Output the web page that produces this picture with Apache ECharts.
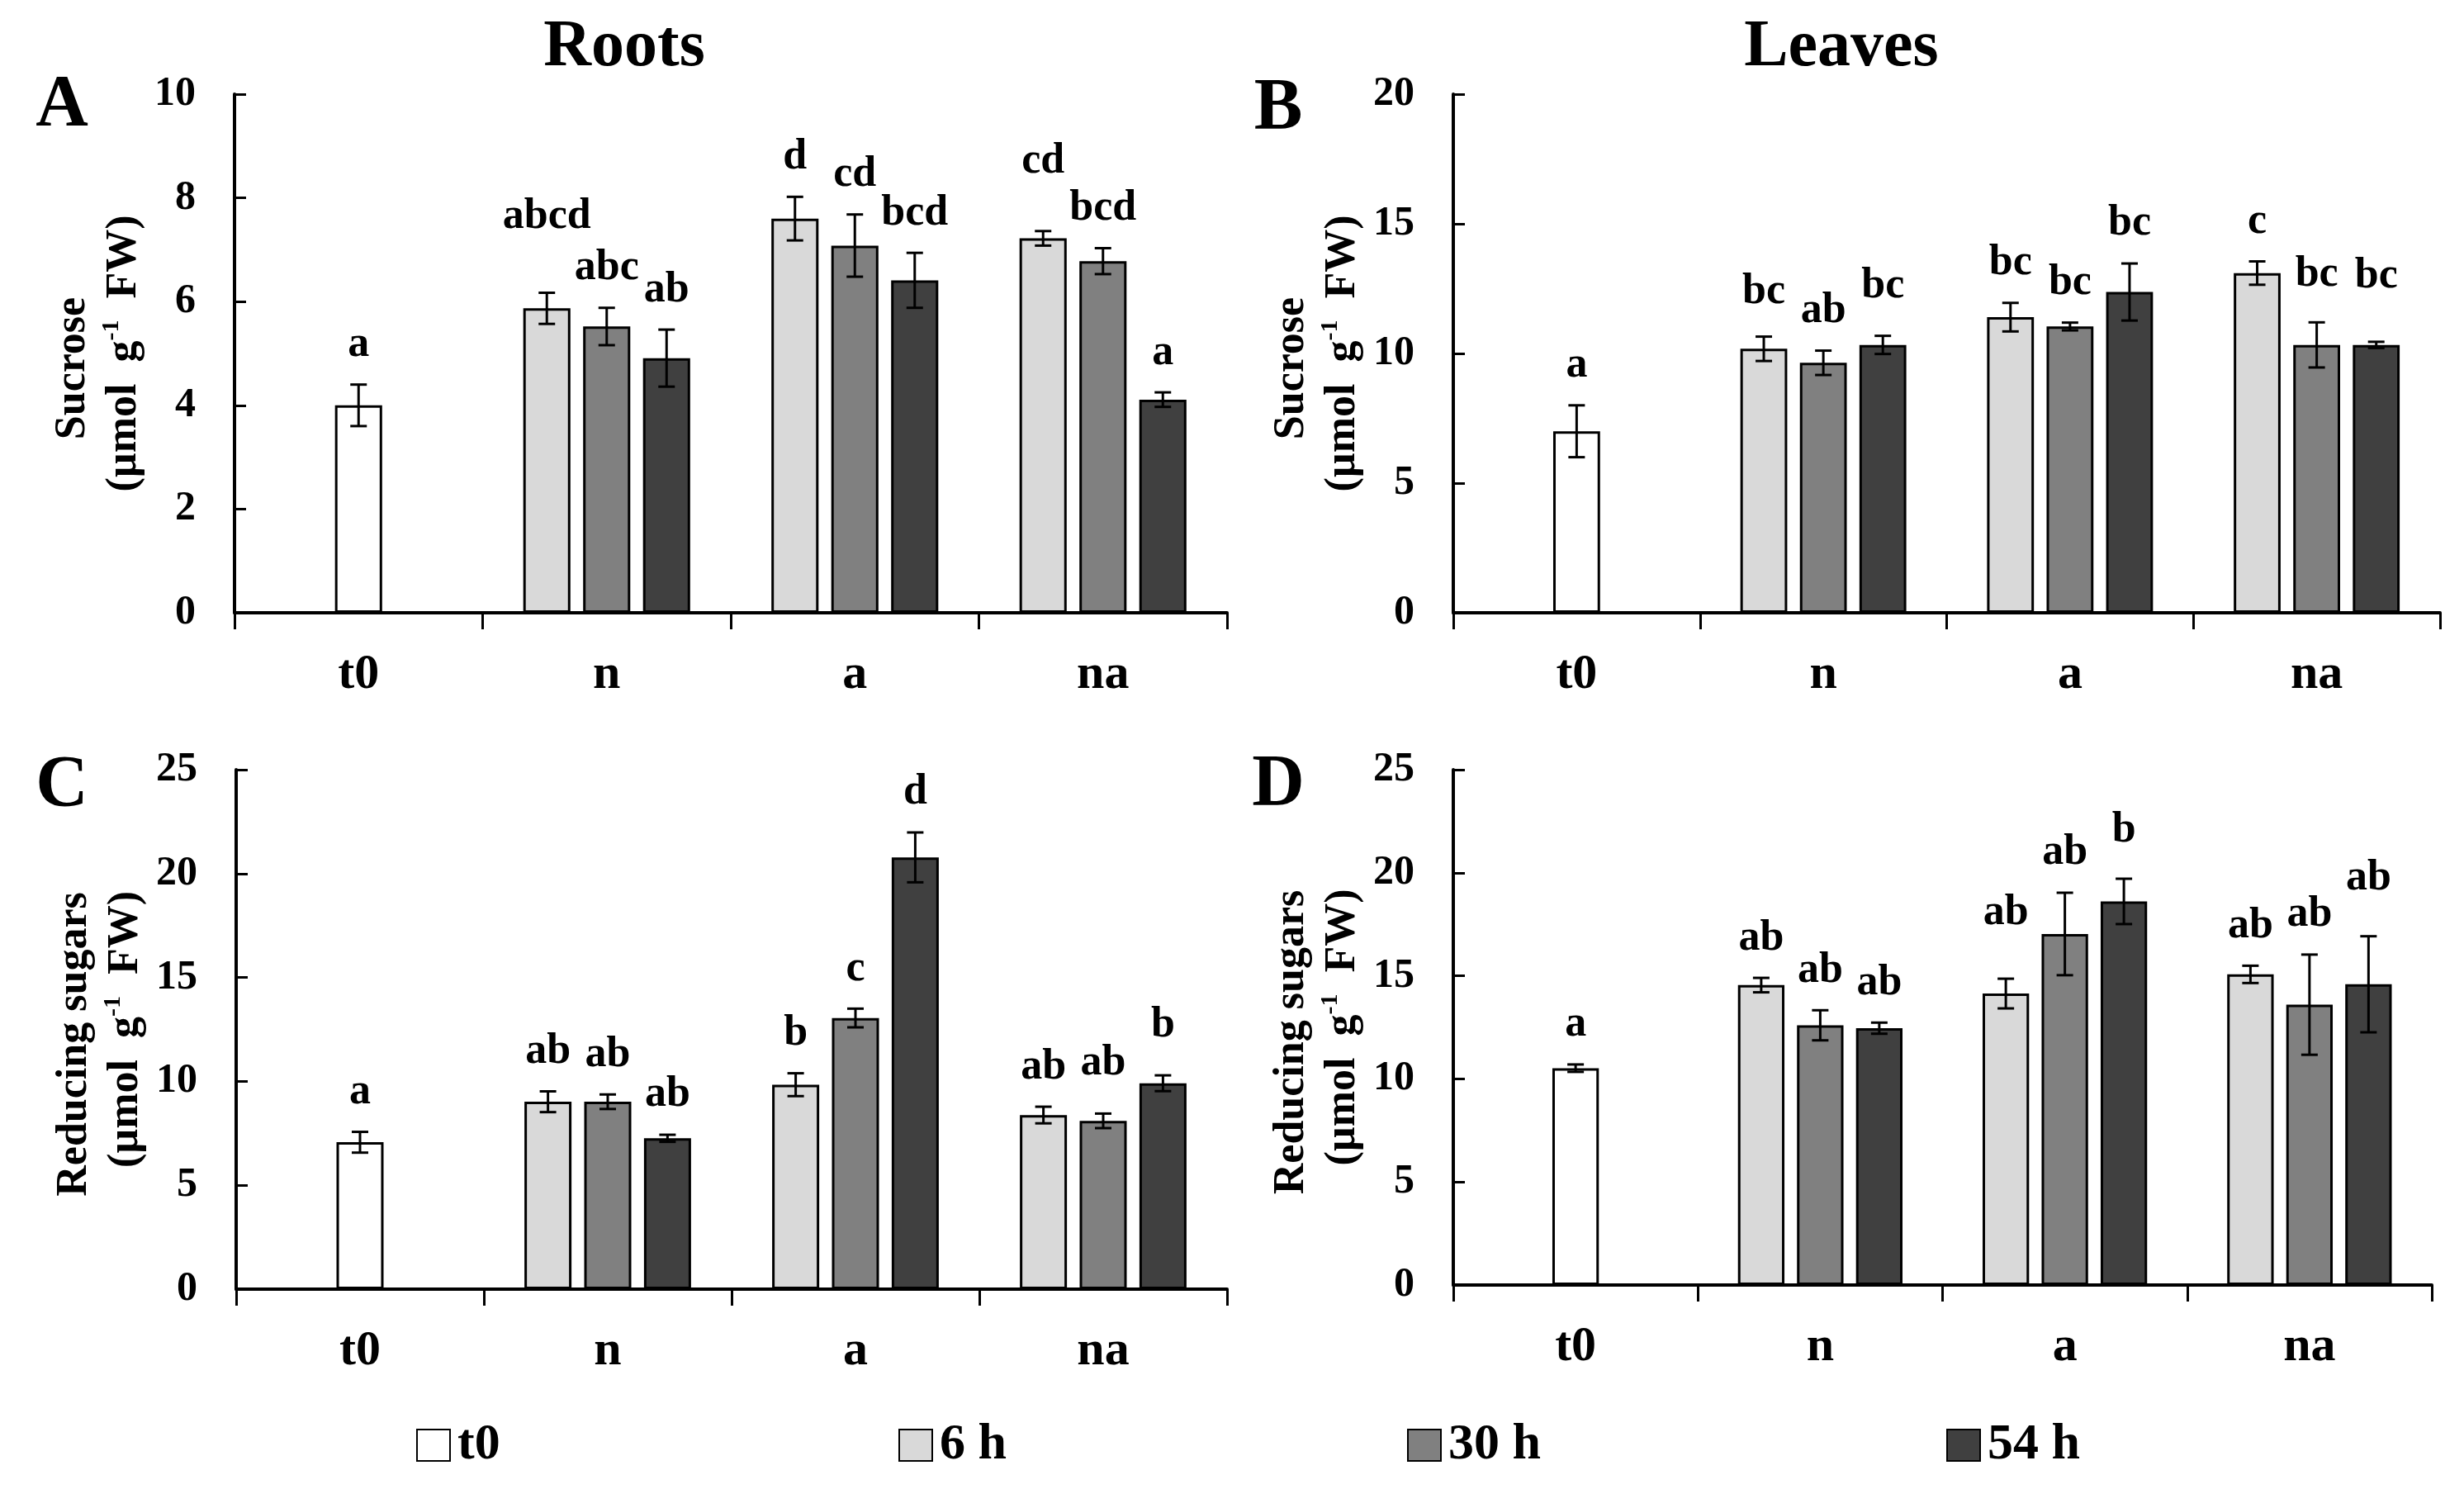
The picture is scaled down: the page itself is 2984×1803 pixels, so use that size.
<!DOCTYPE html>
<html>
<head>
<meta charset="utf-8">
<script src="https://cdn.jsdelivr.net/npm/echarts@6/dist/echarts.min.js"></script>
<style>
  html, body { margin: 0; background: #fff; }
  #chart { width: 2984px; height: 1803px; }
</style>
</head>
<body>
<div id="chart"></div>
<script>
// categories and series
var groups = ['t0', 'n', 'a', 'na'];
var seriesNames = ['t0', '6 h', '30 h', '54 h'];

// A - roots, sucrose (rows: t0, 6 h, 30 h, 54 h)
var rootsSucroseMean = [
    [4.00, null, null, null],
    [null, 5.87, 7.60, 7.22],
    [null, 5.52, 7.08, 6.78],
    [null, 4.91, 6.41, 4.11]
];
var rootsSucroseErr = [
    [0.40, null, null, null],
    [null, 0.30, 0.42, 0.14],
    [null, 0.36, 0.60, 0.25],
    [null, 0.55, 0.53, 0.14]
];
var rootsSucroseLetters = [
    ['a', '', '', ''],
    ['', 'abcd', 'd', 'cd'],
    ['', 'abc', 'cd', 'bcd'],
    ['', 'ab', 'bcd', 'a']
];

// B - leaves, sucrose
var leavesSucroseMean = [
    [7.00, null, null, null],
    [null, 10.18, 11.40, 13.10],
    [null, 9.64, 11.04, 10.33],
    [null, 10.33, 12.37, 10.33]
];
var leavesSucroseErr = [
    [1.00, null, null, null],
    [null, 0.47, 0.55, 0.45],
    [null, 0.47, 0.15, 0.87],
    [null, 0.35, 1.10, 0.12]
];
var leavesSucroseLetters = [
    ['a', '', '', ''],
    ['', 'bc', 'bc', 'c'],
    ['', 'ab', 'bc', 'bc'],
    ['', 'bc', 'bc', 'bc']
];

// C - roots, reducing sugars
var rootsReducingMean = [
    [7.07, null, null, null],
    [null, 9.02, 9.84, 8.38],
    [null, 9.02, 13.05, 8.10],
    [null, 7.26, 20.78, 9.91]
];
var rootsReducingErr = [
    [0.50, null, null, null],
    [null, 0.50, 0.55, 0.40],
    [null, 0.35, 0.45, 0.35],
    [null, 0.17, 1.20, 0.38]
];
var rootsReducingLetters = [
    ['a', '', '', ''],
    ['', 'ab', 'b', 'ab'],
    ['', 'ab', 'c', 'ab'],
    ['', 'ab', 'd', 'b']
];

// D - leaves, reducing sugars
var leavesReducingMean = [
    [10.52, null, null, null],
    [null, 14.55, 14.14, 15.07],
    [null, 12.60, 17.03, 13.60],
    [null, 12.46, 18.61, 14.59]
];
var leavesReducingErr = [
    [0.18, null, null, null],
    [null, 0.35, 0.72, 0.42],
    [null, 0.73, 2.00, 2.43],
    [null, 0.27, 1.10, 2.33]
];
var leavesReducingLetters = [
    ['a', '', '', ''],
    ['', 'ab', 'ab', 'ab'],
    ['', 'ab', 'ab', 'ab'],
    ['', 'ab', 'b', 'ab']
];

// layout / style
var FONT = '"Liberation Serif", "Times New Roman", serif';
var seriesColors = ['#ffffff', '#d9d9d9', '#808080', '#404040'];
var BAR_W = 0.19;
var BAR_GAP = 0.27;
var CAP = 10;
var LETTER_GAP = 22;

// extra lift (px) of some letters, as placed by hand in the original
var liftA = [[0, 0, 0, 0], [0, 44, 0, 36], [0, 0, 0, 0], [0, 0, 0, 0]];
var liftB = [[0, 0, 0, 0], [0, 6, 0, 0], [0, 0, 0, 10], [0, 12, 0, 31]];
var liftC = [[0, 0, 0, 0], [0, 0, 0, 0], [0, 0, 0, 13], [0, 0, 0, 13]];
var liftD = [[0, 0, 0, 0], [0, 0, 32, 0], [0, 0, 0, 0], [0, 0, 10, 22]];

var unitName = '\n{b|(µmol  g}{sup|-1}{b|  FW)}';

var panels = [
    { grid: { left: 284, top: 114, width: 1202, height: 628 }, max: 10, interval: 2,
      name: '{h|Sucrose}' + unitName, mean: rootsSucroseMean, err: rootsSucroseErr,
      letters: rootsSucroseLetters, lift: liftA },
    { grid: { left: 1760, top: 114, width: 1195, height: 628 }, max: 20, interval: 5,
      name: '{h|Sucrose}' + unitName, mean: leavesSucroseMean, err: leavesSucroseErr,
      letters: leavesSucroseLetters, lift: liftB },
    { grid: { left: 286, top: 932, width: 1200, height: 629 }, max: 25, interval: 5,
      name: '{h|Reducing sugars}' + unitName, mean: rootsReducingMean, err: rootsReducingErr,
      letters: rootsReducingLetters, lift: liftC },
    { grid: { left: 1760, top: 932, width: 1185, height: 624 }, max: 25, interval: 5,
      name: '{h|Reducing sugars}' + unitName, mean: leavesReducingMean, err: leavesReducingErr,
      letters: leavesReducingLetters, lift: liftD }
];

function errorSeries(xi, yi, means, errs, letters, lifts, slot, count) {
    var data = [];
    means.forEach(function (m, i) {
        if (m != null) data.push([i, m, errs[i]]);
    });
    return {
        type: 'custom',
        xAxisIndex: xi,
        yAxisIndex: yi,
        z: 5,
        silent: true,
        data: data,
        encode: { x: 0, y: 1 },
        renderItem: function (params, api) {
            var i = api.value(0), m = api.value(1), e = api.value(2);
            var bw = api.size([1, 0])[0] * BAR_W;
            var off = (slot - (count - 1) / 2) * bw * (1 + BAR_GAP);
            var top = api.coord([i, m + e]);
            var bot = api.coord([i, m - e]);
            var x = top[0] + off;
            var ls = { stroke: '#000', lineWidth: 3 };
            return {
                type: 'group',
                children: [
                    { type: 'line', shape: { x1: x, y1: top[1], x2: x, y2: bot[1] }, style: ls },
                    { type: 'line', shape: { x1: x - CAP, y1: top[1], x2: x + CAP, y2: top[1] }, style: ls },
                    { type: 'line', shape: { x1: x - CAP, y1: bot[1], x2: x + CAP, y2: bot[1] }, style: ls },
                    {
                        type: 'text',
                        x: x,
                        y: top[1] - LETTER_GAP - lifts[i],
                        style: {
                            text: letters[i],
                            fill: '#000',
                            font: 'bold 52px ' + FONT,
                            align: 'center',
                            verticalAlign: 'bottom'
                        }
                    }
                ]
            };
        }
    };
}

var grids = [], xAxes = [], yAxes = [], series = [];

panels.forEach(function (p, k) {
    grids.push(p.grid);
    xAxes.push({
        type: 'category',
        gridIndex: k,
        data: groups,
        axisLine: { lineStyle: { color: '#000', width: 4 } },
        axisTick: { show: true, interval: 0, length: 20, lineStyle: { color: '#000', width: 3 } },
        axisLabel: { margin: 45, color: '#000', fontFamily: FONT, fontWeight: 'bold', fontSize: 60, interval: 0 },
        splitLine: { show: false }
    });
    xAxes.push({ type: 'category', gridIndex: k, data: groups, show: false });
    yAxes.push({
        type: 'value',
        gridIndex: k,
        min: 0,
        max: p.max,
        interval: p.interval,
        name: p.name,
        nameLocation: 'middle',
        nameRotate: 90,
        nameGap: 102,
        nameTextStyle: {
            lineHeight: 62,
            rich: {
                h: { fontFamily: FONT, fontWeight: 'bold', fontSize: 52, color: '#000', lineHeight: 62, padding: [0, 36, 0, 0] },
                b: { fontFamily: FONT, fontWeight: 'bold', fontSize: 52, color: '#000', lineHeight: 62 },
                sup: { fontFamily: FONT, fontWeight: 'bold', fontSize: 30, color: '#000', lineHeight: 62, verticalAlign: 'top' }
            }
        },
        axisLine: { show: true, lineStyle: { color: '#000', width: 4 } },
        axisTick: { show: true, inside: true, length: 14, lineStyle: { color: '#000', width: 3 } },
        axisLabel: { margin: 47, color: '#000', fontFamily: FONT, fontWeight: 'bold', fontSize: 50 },
        splitLine: { show: false }
    });

    for (var s = 0; s < 4; s++) {
        var xi = s === 0 ? 2 * k : 2 * k + 1;
        series.push({
            type: 'bar',
            name: seriesNames[s],
            xAxisIndex: xi,
            yAxisIndex: k,
            data: p.mean[s],
            barWidth: (BAR_W * 100) + '%',
            barGap: (BAR_GAP * 100) + '%',
            itemStyle: { color: seriesColors[s], borderColor: '#000', borderWidth: 3 }
        });
        var slot = s === 0 ? 0 : s - 1;
        var count = s === 0 ? 1 : 3;
        series.push(errorSeries(xi, k, p.mean[s], p.err[s], p.letters[s], p.lift[s], slot, count));
    }
});

var legendIconX = [499, 1083, 1699, 2352];
var legends = seriesNames.map(function (n, i) {
    return {
        data: [n],
        left: legendIconX[i],
        top: 1714,
        itemWidth: 40,
        itemHeight: 38,
        icon: 'rect',
        selectedMode: false,
        textStyle: { color: '#000', fontFamily: FONT, fontWeight: 'bold', fontSize: 62, padding: [0, 0, 0, 4] }
    };
});

function label(text, x, y, size) {
    return {
        type: 'text',
        x: x,
        y: y,
        style: {
            text: text,
            fill: '#000',
            font: 'bold ' + size + 'px ' + FONT,
            align: 'center',
            verticalAlign: 'middle'
        }
    };
}

var chart = echarts.init(document.getElementById('chart'));
chart.setOption({
    animation: false,
    backgroundColor: '#fff',
    grid: grids,
    xAxis: xAxes,
    yAxis: yAxes,
    legend: legends,
    series: series,
    graphic: [
        label('Roots', 756, 58, 80),
        label('Leaves', 2230, 58, 80),
        label('A', 75, 128, 88),
        label('B', 1548, 132, 88),
        label('C', 75, 952, 88),
        label('D', 1548, 951, 88)
    ]
});
</script>
</body>
</html>
